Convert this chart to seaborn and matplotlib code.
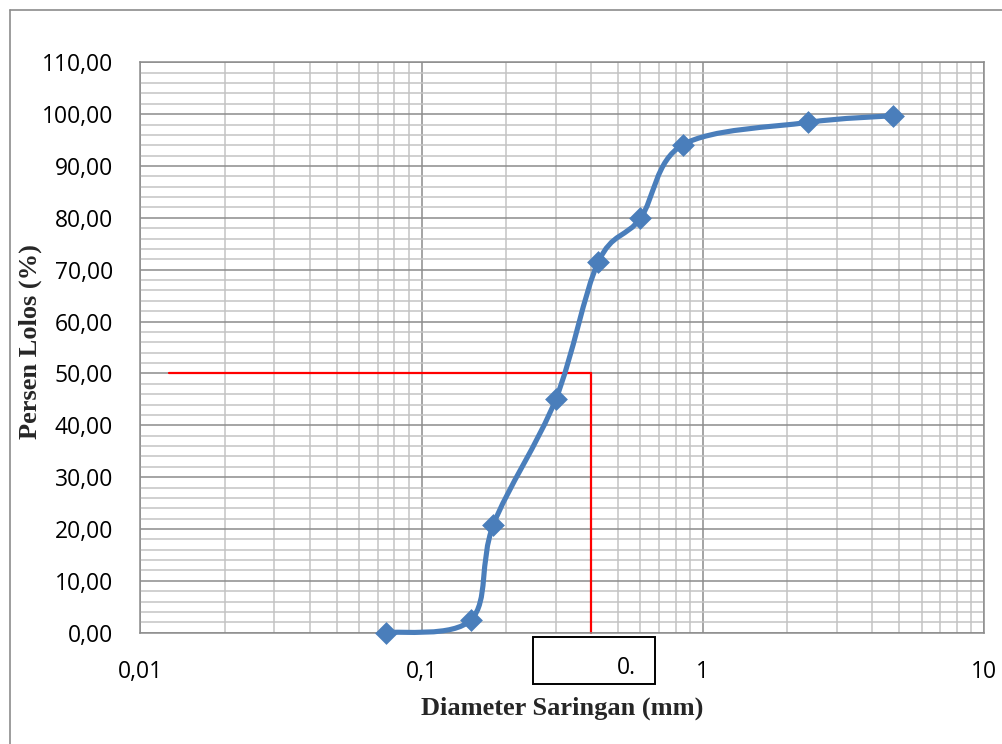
import numpy as np
import matplotlib
matplotlib.use("Agg")
import matplotlib.pyplot as plt
import seaborn as sns
import pandas as pd
from matplotlib.path import Path
from matplotlib.patches import PathPatch, Rectangle
from matplotlib.lines import Line2D
from matplotlib.ticker import FixedLocator, LogLocator, MultipleLocator, FixedFormatter, NullFormatter

# Sieve analysis data (grain size distribution)
sieve_mm = [0.075, 0.15, 0.18, 0.30, 0.425, 0.60, 0.85, 2.36, 4.75]
passing_pct = [0.00, 2.50, 20.80, 45.00, 71.50, 79.90, 94.10, 98.40, 99.70]

x_ticks = [0.01, 0.1, 1, 10]
x_tick_labels = ["0,01", "0,1", "1", "10"]
y_ticks = list(range(0, 111, 10))
y_tick_labels = [f"{v:.2f}".replace(".", ",") for v in y_ticks]

# D50 guide lines
d50_mm = 0.4
d50_pct = 50
guide_start_mm = 0.0127
d50_box_text = "0."

x_label = "Diameter Saringan (mm)"
y_label = "Persen Lolos (%)"

BLUE = "#4A7EBB"
RED = "#FF0000"
MAJOR_GRID = "#8C8C8C"
MINOR_GRID = "#C3C3C3"

sns.set_theme(style="white")
plt.rcParams["font.family"] = ["Open Sans", "DejaVu Sans"]

W, H = 1002, 744
fig = plt.figure(figsize=(W / 100, H / 100), dpi=100)
fig.patch.set_facecolor("white")

# axes placed in pixel terms
left_px, right_px, top_px, bottom_px = 140.3, 984.0, 62.3, 632.7
ax = fig.add_axes([left_px / W, 1 - bottom_px / H,
                   (right_px - left_px) / W, (bottom_px - top_px) / H])

ax.set_xscale("log")
ax.set_xlim(x_ticks[0], x_ticks[-1])
ax.set_ylim(y_ticks[0], y_ticks[-1])

ax.xaxis.set_major_locator(FixedLocator(x_ticks))
ax.xaxis.set_major_formatter(FixedFormatter(x_tick_labels))
ax.xaxis.set_minor_locator(LogLocator(base=10, subs=np.arange(2, 10)))
ax.xaxis.set_minor_formatter(NullFormatter())
ax.yaxis.set_major_locator(FixedLocator(y_ticks))
ax.yaxis.set_major_formatter(FixedFormatter(y_tick_labels))
ax.yaxis.set_minor_locator(MultipleLocator(2))

ax.set_axisbelow(True)
ax.grid(which="minor", color=MINOR_GRID, lw=1.1)
ax.grid(which="major", color=MAJOR_GRID, lw=1.1)

for s in ax.spines.values():
    s.set_color(MAJOR_GRID)
    s.set_linewidth(1.1)

ax.tick_params(axis="x", which="major", direction="out", length=5.8, width=1.0,
               color=MAJOR_GRID, pad=13.5, labelsize=16.5, labelcolor="black")
ax.tick_params(axis="y", which="major", length=0, pad=19.5,
               labelsize=16.5, labelcolor="black")
ax.tick_params(which="minor", length=0)

# markers
df = pd.DataFrame({"sieve": sieve_mm, "passing": passing_pct})
sns.scatterplot(data=df, x="sieve", y="passing", marker="D", s=135,
                color=BLUE, edgecolor=BLUE, linewidth=0, zorder=4, ax=ax,
                clip_on=False)


def smooth_curve(axis, xs, ys):
    """Bezier path through the points with Catmull-Rom tangents in screen space."""
    tr = axis.transData
    pts = tr.transform(np.column_stack([xs, ys]))
    n = len(pts)
    verts = [pts[0]]
    codes = [Path.MOVETO]
    for i in range(n - 1):
        p0 = pts[max(i - 1, 0)]
        p1 = pts[i]
        p2 = pts[i + 1]
        p3 = pts[min(i + 2, n - 1)]
        c1 = p1 + (p2 - p0) / 6.0
        c2 = p2 - (p3 - p1) / 6.0
        verts += [c1, c2, p2]
        codes += [Path.CURVE4] * 3
    data_verts = tr.inverted().transform(np.array(verts))
    return Path(data_verts, codes)


curve = PathPatch(smooth_curve(ax, sieve_mm, passing_pct), facecolor="none",
                  edgecolor=BLUE, lw=3.7, capstyle="round", joinstyle="round",
                  zorder=3, clip_on=False)
ax.add_patch(curve)

# D50 guide lines
ax.plot([guide_start_mm, d50_mm], [d50_pct, d50_pct], color=RED, lw=1.6, zorder=2.5)
ax.plot([d50_mm, d50_mm], [d50_pct, y_ticks[0]], color=RED, lw=1.6, zorder=2.5,
        clip_on=False)

# labels
ax.set_xlabel(x_label, fontsize=19, fontweight="bold", family="Liberation Serif")
ax.xaxis.set_label_coords(0.5, -0.132)
ax.xaxis.label.set_va("center")
ax.set_ylabel(y_label, fontsize=19, fontweight="bold", family="Liberation Serif")
ax.yaxis.set_label_coords(-0.1307, 0.511)
ax.yaxis.label.set_va("center")
ax.yaxis.label.set_ha("center")

# boxed value below the D50 line
bx0, bx1, by0, by1 = 533.3, 655.0, 636.7, 684.0
fig.add_artist(Rectangle((bx0 / W, 1 - by1 / H), (bx1 - bx0) / W, (by1 - by0) / H,
                         transform=fig.transFigure, facecolor="white",
                         edgecolor="black", lw=1.4, zorder=5))
fig.text(636 / W, 1 - 674 / H, d50_box_text, ha="right", va="baseline",
         fontsize=16.5, color="black", zorder=6)

# chart frame
fig.add_artist(Line2D([9.5 / W, 9.5 / W], [0, 1 - 9.5 / H], transform=fig.transFigure,
                      color="#8C8C8C", lw=1.2))
fig.add_artist(Line2D([9.5 / W, 1], [1 - 9.5 / H, 1 - 9.5 / H], transform=fig.transFigure,
                      color="#8C8C8C", lw=1.2))

fig.savefig("out.png", dpi=100, facecolor="white")
